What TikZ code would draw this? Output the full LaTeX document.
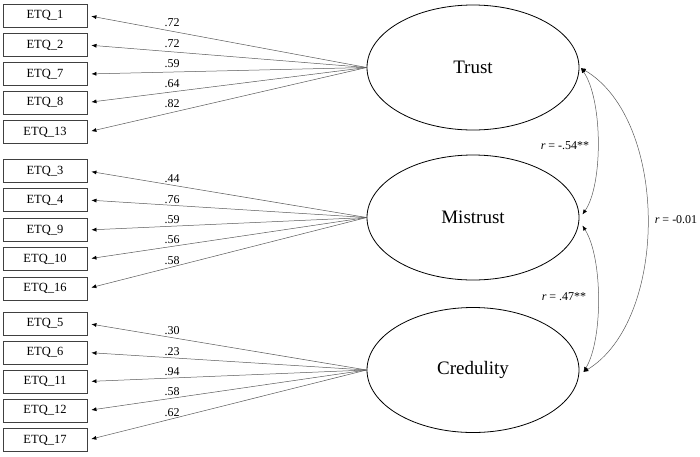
\documentclass[tikz,border=0pt]{standalone}
\usepackage{fontspec}
\setmainfont{Liberation Serif}
\usetikzlibrary{shapes.geometric,arrows.meta,calc}
\tikzset{
  tip/.tip={Latex[length=5pt,width=4pt,color=black]},
  ind/.style={draw=black!75,line width=0.9pt,fill=white,minimum width=84pt,minimum height=23pt,inner sep=0pt,font=\fontsize{12.5}{14}\selectfont},
  lat/.style={draw=black,line width=0.8pt,ellipse,minimum width=212pt,minimum height=125pt,inner sep=0pt,font=\fontsize{19}{22}\selectfont},
  load/.style={draw=black!65,line width=0.5pt,-tip,shorten >=4pt},
  cov/.style={draw=black!65,line width=0.5pt,tip-tip},
  lbl/.style={inner sep=0pt,font=\fontsize{12}{14}\selectfont},
}
\begin{document}
\begin{tikzpicture}[x=1pt,y=-1pt]
\useasboundingbox (0,0) rectangle (700,456);
% latent variables
\node[lat] (trust) at (473,67.5) {Trust};
\node[lat] (mistrust) at (473,217.5) {Mistrust};
\node[lat] (cred) at (473,370) {Credulity};
% indicators
\node[ind] (e1) at (45,15.5) {ETQ\_1};
\node[ind] (e2) at (45,45) {ETQ\_2};
\node[ind] (e7) at (45,74) {ETQ\_7};
\node[ind] (e8) at (45,102.5) {ETQ\_8};
\node[ind] (e13) at (45,132) {ETQ\_13};
\node[ind] (e3) at (45,171) {ETQ\_3};
\node[ind] (e4) at (45,200) {ETQ\_4};
\node[ind] (e9) at (45,230) {ETQ\_9};
\node[ind] (e10) at (45,259) {ETQ\_10};
\node[ind] (e16) at (45,288.5) {ETQ\_16};
\node[ind] (e5) at (45,323.5) {ETQ\_5};
\node[ind] (e6) at (45,352.5) {ETQ\_6};
\node[ind] (e11) at (45,381.5) {ETQ\_11};
\node[ind] (e12) at (45,410.5) {ETQ\_12};
\node[ind] (e17) at (45,440) {ETQ\_17};
% loadings
\foreach \e in {e1,e2,e7,e8,e13} \draw[load] (trust.west) -- (\e.east);
\foreach \e in {e3,e4,e9,e10,e16} \draw[load] (mistrust.west) -- (\e.east);
\foreach \e in {e5,e6,e11,e12,e17} \draw[load] (cred.west) -- (\e.east);
% loading labels
\node[lbl] (l1) at (172,23) {.72};
\node[lbl] (l2) at (172,43.5) {.72};
\node[lbl] (l7) at (172,63.5) {.59};
\node[lbl] (l8) at (172,84) {.64};
\node[lbl] (l13) at (172,104) {.82};
\node[lbl] (l3) at (172,179) {.44};
\node[lbl] (l4) at (172,199.5) {.76};
\node[lbl] (l9) at (172,220) {.59};
\node[lbl] (l10) at (172,240) {.56};
\node[lbl] (l16) at (172,260.5) {.58};
\node[lbl] (l5) at (172,331) {.30};
\node[lbl] (l6) at (172,351.5) {.23};
\node[lbl] (l11) at (172,372) {.94};
\node[lbl] (l12) at (172,392) {.58};
\node[lbl] (l17) at (172,412.5) {.62};
% covariance anchors
\coordinate (tA) at ($(trust.east)+(1.5,0.5)$);
\coordinate (mA) at ($(mistrust.east)+(3,-3)$);
\coordinate (mB) at ($(mistrust.east)+(3,8)$);
\coordinate (cA) at ($(cred.east)+(4,2)$);
% covariances
\draw[cov] (tA) .. controls (603,100) and (603,185) .. (mA);
\draw[cov] (mB) .. controls (603,258) and (603,340) .. (cA);
\draw[cov] (tA) .. controls (669,120) and (669,320) .. (cA);
\node[lbl] (r1) at (565,146) {\textit{r} = -.54**};
\node[lbl] (r2) at (564,297) {\textit{r} = .47**};
\node[lbl] (r3) at (676,220) {\textit{r} = -0.01};
\end{tikzpicture}
\end{document}
